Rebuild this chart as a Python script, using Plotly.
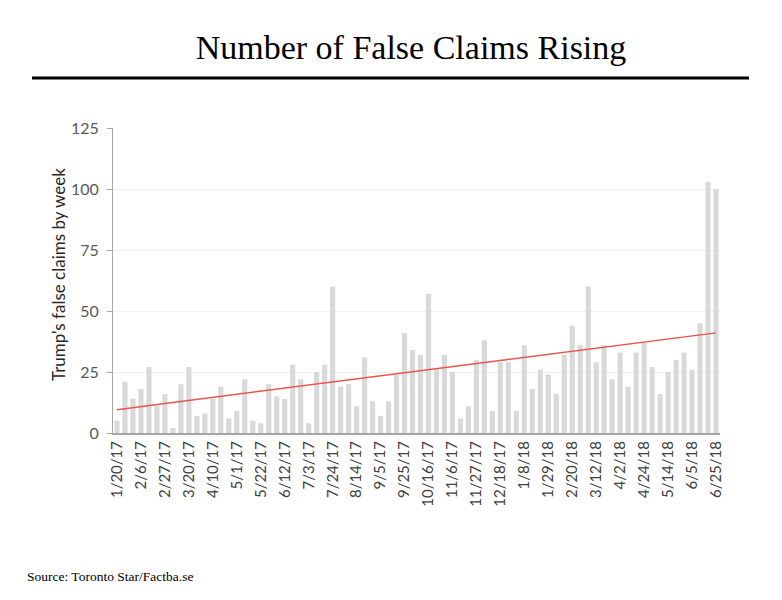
import numpy as np
import plotly.graph_objects as go

# ---- data ----
tick_labels = ["1/20/17", "2/6/17", "2/27/17", "3/20/17", "4/10/17", "5/1/17", "5/22/17",
               "6/12/17", "7/3/17", "7/24/17", "8/14/17", "9/5/17", "9/25/17", "10/16/17",
               "11/6/17", "11/27/17", "12/18/17", "1/8/18", "1/29/18", "2/20/18", "3/12/18",
               "4/2/18", "4/24/18", "5/14/18", "6/5/18", "6/25/18"]

claims = [5, 21, 14, 18, 27, 11, 16, 2, 20, 27,
          7, 8, 14, 19, 6, 9, 22, 5, 4, 20,
          15, 14, 28, 22, 4, 25, 28, 60, 19, 20,
          11, 31, 13, 7, 13, 24, 41, 34, 32, 57,
          26, 32, 25, 6, 11, 30, 38, 9, 29, 29,
          9, 36, 18, 26, 24, 16, 32, 44, 36, 60,
          29, 36, 22, 33, 19, 33, 37, 27, 16, 25,
          30, 33, 26, 45, 103, 100]

week_idx = list(range(len(claims)))
tick_idx = week_idx[::3]

# linear trend computed from the data
slope, intercept = np.polyfit(week_idx, claims, 1)
trend_x = [week_idx[0], week_idx[-1]]
trend_y = [intercept + slope * x for x in trend_x]

# page offset of the figure inside the browser (body margin)
OFF = 8
W, H = 782 - OFF, 600 - OFF
# target page pixels of the plot area
P_L, P_R, P_T, P_B = 113, 720, 128, 433
ml, mt = P_L - OFF, P_T - OFF
mr, mb = W - (P_R - OFF), H - (P_B - OFF)
pw, ph = P_R - P_L, P_B - P_T

def px_x(p):
    return (p - P_L) / pw

def px_y(p):
    return (P_B - p) / ph

fig = go.Figure()
fig.add_trace(go.Bar(x=week_idx, y=claims, marker=dict(color="#d9d9d9", line=dict(width=0)),
                     showlegend=False))
fig.add_trace(go.Scatter(x=trend_x, y=trend_y, mode="lines",
                         line=dict(color="#e8554e", width=1.5), showlegend=False))

fig.update_layout(
    width=W, height=H,
    margin=dict(l=ml, r=mr, t=mt, b=mb),
    paper_bgcolor="white", plot_bgcolor="white",
    bargap=0.36,
    title=dict(text="Number of False Claims Rising", x=(411 - OFF) / W, xanchor="center",
               y=1 - (47 - OFF) / H, yanchor="middle", xref="container", yref="container",
               font=dict(family="Liberation Serif", size=34, color="black")),
    font=dict(family="Lato", color="#595959"),
)

fig.update_xaxes(
    range=[-0.5, len(claims) - 0.5],
    tickmode="array", tickvals=tick_idx, ticktext=tick_labels,
    tickangle=-90, tickfont=dict(family="Lato", size=15, color="#404040"),
    showline=True, linecolor="#a6a6a6", linewidth=2,
    showgrid=False, ticks="", zeroline=False,
)
fig.update_yaxes(
    range=[0, 125], tickmode="array", tickvals=[0, 25, 50, 75, 100, 125],
    tickfont=dict(family="Lato", size=16, color="#595959"),
    ticklabelstandoff=5,
    showline=True, linecolor="#a6a6a6", linewidth=1,
    ticks="outside", ticklen=5, tickcolor="#a6a6a6",
    showgrid=True, gridcolor="#eeeeee", gridwidth=1, zeroline=False,
)

# y axis title
fig.add_annotation(text="Trump's false claims by week", textangle=-90,
                   xref="paper", yref="paper", x=px_x(58), y=px_y(275),
                   xanchor="center", yanchor="middle", showarrow=False,
                   font=dict(family="Lato", size=17, color="#262626"))

# source
fig.add_annotation(text="Source: Toronto Star/Factba.se", xref="paper", yref="paper",
                   x=px_x(25), y=px_y(576), xanchor="left", yanchor="middle",
                   showarrow=False,
                   font=dict(family="Liberation Serif", size=13.5, color="black"))

# rule under title
fig.add_shape(type="line", xref="paper", yref="paper",
              x0=px_x(32), x1=px_x(749), y0=px_y(78), y1=px_y(78),
              line=dict(color="black", width=3))

fig.write_html("out.html")
